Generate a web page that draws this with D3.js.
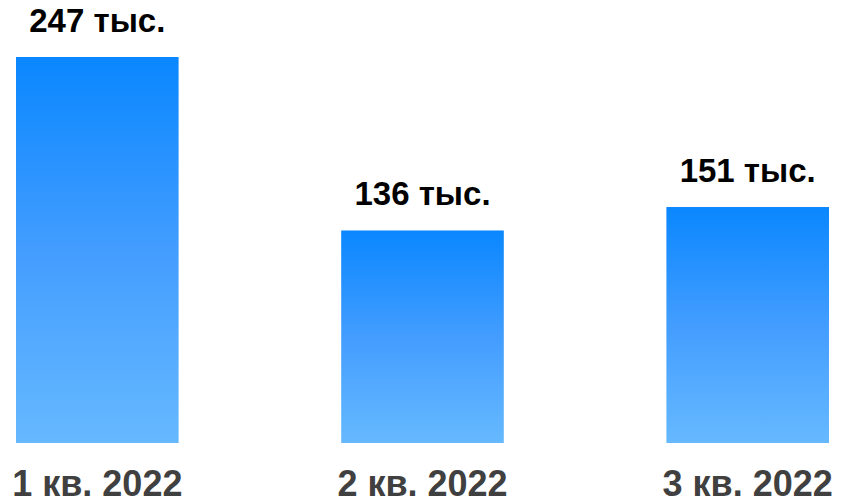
<!DOCTYPE html>
<html>
<head>
<meta charset="utf-8">
<script src="https://cdn.jsdelivr.net/npm/d3@7"></script>
<style>
    body { margin: 0; background: #fff; }
    svg text { font-family: "Liberation Sans", Arial, sans-serif; font-weight: bold; }
</style>
</head>
<body>
<svg id="chart"></svg>
<script>
var quarters = ["1 кв. 2022", "2 кв. 2022", "3 кв. 2022"];
var values = [247, 136, 151];
var valueLabels = ["247 тыс.", "136 тыс.", "151 тыс."];

var width = 841, height = 504;
var baseLine = 443;
var barTopMax = 57;

var chart = d3.select("#chart")
    .attr("width", width)
    .attr("height", height);

var x = d3.scaleBand()
    .domain(quarters)
    .range([16, 829])
    .paddingInner(0.5)
    .paddingOuter(0);

var y = d3.scaleLinear()
    .domain([0, d3.max(values)])
    .range([baseLine, barTopMax]);

// gradient, darker at the top of every bar
var grad = chart.append("defs").append("linearGradient")
    .attr("id", "barGrad")
    .attr("x1", 0).attr("y1", 0)
    .attr("x2", 0).attr("y2", 1);
grad.append("stop").attr("offset", "0%").attr("stop-color", "#0a87ff");
grad.append("stop").attr("offset", "50%").attr("stop-color", "#439dff");
grad.append("stop").attr("offset", "100%").attr("stop-color", "#66b9ff");

var bar = chart.selectAll("g.bar")
    .data(quarters)
    .enter().append("g")
    .attr("class", "bar");

bar.append("rect")
    .attr("x", function (d) { return x(d); })
    .attr("y", function (d, i) { return y(values[i]); })
    .attr("width", x.bandwidth())
    .attr("height", function (d, i) { return baseLine - y(values[i]); })
    .attr("fill", "url(#barGrad)");

bar.append("text")
    .attr("x", function (d) { return x(d) + x.bandwidth() / 2; })
    .attr("y", function (d, i) { return y(values[i]) - 25; })
    .attr("text-anchor", "middle")
    .style("font-size", "33px")
    .attr("fill", "#000")
    .text(function (d, i) { return valueLabels[i]; });

// category axis, no line or ticks
var xAxis = d3.axisBottom(x).tickSize(0).tickPadding(0);
var axisG = chart.append("g")
    .attr("transform", "translate(0," + baseLine + ")")
    .call(xAxis);
axisG.select(".domain").remove();
axisG.selectAll("text")
    .attr("dy", 0)
    .attr("y", 53)
    .style("font-size", "36px")
    .style("font-family", "'Liberation Sans', Arial, sans-serif")
    .style("font-weight", "bold")
    .attr("fill", "#404040");
</script>
</body>
</html>
